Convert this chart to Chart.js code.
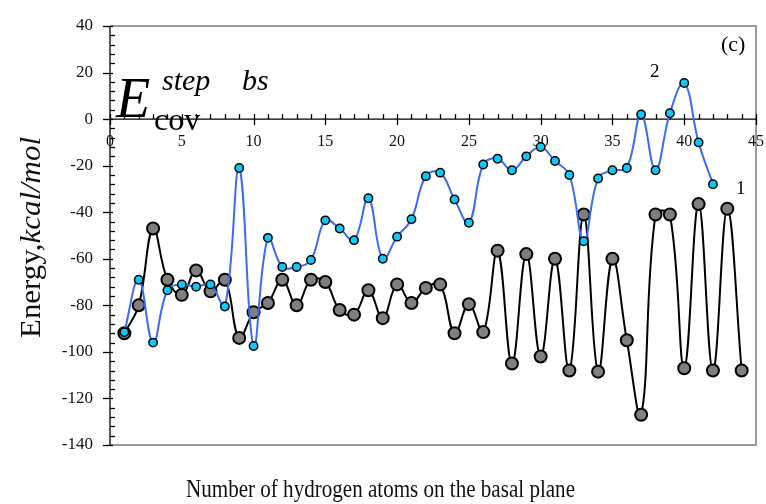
<!DOCTYPE html>
<html>
<head>
<meta charset="utf-8">
<script src="https://cdn.jsdelivr.net/npm/chart.js@4/dist/chart.umd.min.js"></script>
<style>
  html, body { margin: 0; padding: 0; background: #fff; }
  #chart { display: block; }
</style>
</head>
<body>
<canvas id="chart" width="766" height="504"></canvas>
<script>
// number of H atoms (categories)
const hAtoms1 = [1,2,3,4,5,6,7,8,9,10,11,12,13,14,15,16,17,18,19,20,21,22,23,24,25,26,27,28,29,30,31,32,33,34,35,36,37,38,39,40,41,42,43,44];
const hAtoms2 = [1,2,3,4,5,6,7,8,9,10,11,12,13,14,15,16,17,18,19,20,21,22,23,24,25,26,27,28,29,30,31,32,33,34,35,36,37,38,39,40,41,42];

// curve 1 (grey markers) and curve 2 (cyan markers), kcal/mol
const energy1 = [-92, -80, -47, -69, -75.5, -65, -74, -69, -94, -83, -79, -69, -80, -69, -70, -82, -84, -73.5, -85.5, -71,
  -79, -72.5, -71, -92, -79.5, -91.5, -56.5, -105, -58, -102, -60, -108, -41, -108.5, -60, -95, -127, -41, -41, -107,
  -36.5, -108, -38.5, -108];
const energy2 = [-91.5, -69, -96, -73.5, -71, -72, -71, -80.5, -21, -97.5, -51, -63.5, -63.5, -60.5, -43.5, -47, -52, -34, -60, -50.5,
  -43, -24.5, -23, -34.5, -44.5, -19.5, -17, -22, -16, -12, -18, -24, -52.5, -25.5, -22, -21, 2, -22, 2.5, 15.5,
  -10, -28];

const xTicks = [0, 5, 10, 15, 20, 25, 30, 35, 40, 45];
const yTicks = [40, 20, 0, -20, -40, -60, -80, -100, -120, -140];

const serif = '"Liberation Serif", "Times New Roman", serif';

// draw text squeezed/stretched to a given width
function fitText(ctx, text, x, y, w) {
  const m = ctx.measureText(text).width;
  ctx.save();
  ctx.translate(x, y);
  ctx.scale(w / m, 1);
  ctx.fillText(text, 0, 0);
  ctx.restore();
}

const axesPlugin = {
  id: 'axesPlugin',
  beforeDatasetsDraw(chart) {
    const ctx = chart.ctx;
    const xs = chart.scales.x, ys = chart.scales.y;
    const a = chart.chartArea;
    const y0 = ys.getPixelForValue(0);
    ctx.save();

    // grey frame (top, right, bottom)
    ctx.strokeStyle = '#9a9a9a';
    ctx.lineWidth = 2;
    ctx.beginPath();
    ctx.moveTo(a.left, a.top);
    ctx.lineTo(a.right, a.top);
    ctx.lineTo(a.right, a.bottom);
    ctx.lineTo(a.left, a.bottom);
    ctx.stroke();

    // y axis
    ctx.strokeStyle = '#000';
    ctx.lineWidth = 1.3;
    ctx.beginPath();
    ctx.moveTo(a.left, a.top);
    ctx.lineTo(a.left, a.bottom);
    ctx.stroke();
    for (let v = -140; v <= 40; v += 4) {
      const py = Math.round(ys.getPixelForValue(v)) + 0.5;
      ctx.beginPath();
      if (v % 20 === 0) { ctx.moveTo(a.left - 7, py); ctx.lineTo(a.left + 3, py); }
      else { ctx.moveTo(a.left, py); ctx.lineTo(a.left + 5, py); }
      ctx.stroke();
    }
    ctx.fillStyle = '#111';
    ctx.font = '17px ' + serif;
    ctx.textAlign = 'right';
    ctx.textBaseline = 'middle';
    yTicks.forEach(v => ctx.fillText(String(v), 93, ys.getPixelForValue(v)));

    // x axis at y = 0
    ctx.beginPath();
    ctx.moveTo(a.left, y0);
    ctx.lineTo(a.right, y0);
    ctx.stroke();
    for (let v = 0; v <= 45; v++) {
      const px = Math.round(xs.getPixelForValue(v)) + 0.5;
      ctx.beginPath();
      if (v % 5 === 0) { ctx.moveTo(px, y0 - 5); ctx.lineTo(px, y0 + 6); }
      else { ctx.moveTo(px, y0 - 5); ctx.lineTo(px, y0); }
      ctx.stroke();
    }
    ctx.font = '16px ' + serif;
    ctx.textAlign = 'center';
    ctx.textBaseline = 'alphabetic';
    xTicks.forEach(v => ctx.fillText(String(v), xs.getPixelForValue(v), 146));

    // axis titles
    ctx.textAlign = 'left';
    ctx.font = '26px ' + serif;
    fitText(ctx, 'Number of hydrogen atoms on the basal plane', 186, 497, 389);

    ctx.save();
    ctx.translate(40, 338);
    ctx.rotate(-Math.PI / 2);
    const part1 = 'Energy,', part2 = 'kcal/mol';
    ctx.font = '30px ' + serif;
    const w1 = ctx.measureText(part1).width;
    ctx.font = 'italic 30px ' + serif;
    const w2 = ctx.measureText(part2).width;
    const k = 201 / (w1 + w2);
    ctx.scale(k, 1);
    ctx.font = '30px ' + serif;
    ctx.fillText(part1, 0, 0);
    ctx.font = 'italic 30px ' + serif;
    ctx.fillText(part2, w1, 0);
    ctx.restore();

    // label E_cov^(step bs)
    ctx.fillStyle = '#000';
    ctx.font = 'italic 56px ' + serif;
    ctx.fillText('E', 116, 117);
    ctx.font = 'italic 30px ' + serif;
    ctx.fillText('step', 162, 90);
    ctx.fillText('bs', 242, 90);
    ctx.font = '32px ' + serif;
    ctx.fillText('cov', 154, 130);

    ctx.font = '22px ' + serif;
    ctx.fillText('(c)', 721, 51);
    ctx.font = '19px ' + serif;
    ctx.fillText('2', 650, 77);
    ctx.fillText('1', 736, 194);
    ctx.restore();
  }
};

new Chart(document.getElementById('chart'), {
  type: 'line',
  data: {
    datasets: [
      {
        label: '2',
        data: hAtoms2.map((h, i) => ({ x: h, y: energy2[i] })),
        borderColor: '#3a6cf4',
        borderWidth: 2,
        backgroundColor: '#10c8f4',
        pointBackgroundColor: '#10c8f4',
        pointBorderColor: '#000',
        pointBorderWidth: 1.5,
        pointRadius: 4.2,
        tension: 0.4,
        order: 1
      },
      {
        label: '1',
        data: hAtoms1.map((h, i) => ({ x: h, y: energy1[i] })),
        borderColor: '#000',
        borderWidth: 2,
        backgroundColor: '#7f7f7f',
        pointBackgroundColor: '#7f7f7f',
        pointBorderColor: '#000',
        pointBorderWidth: 2,
        pointRadius: 6,
        tension: 0.4,
        order: 2
      }
    ]
  },
  options: {
    responsive: false,
    animation: false,
    devicePixelRatio: 1,
    layout: { padding: { left: 110, right: 10, top: 26, bottom: 59 } },
    plugins: { legend: { display: false }, tooltip: { enabled: false } },
    scales: {
      x: { type: 'linear', min: 0, max: 45, display: false },
      y: { type: 'linear', min: -140, max: 40, display: false }
    }
  },
  plugins: [axesPlugin]
});
</script>
</body>
</html>
